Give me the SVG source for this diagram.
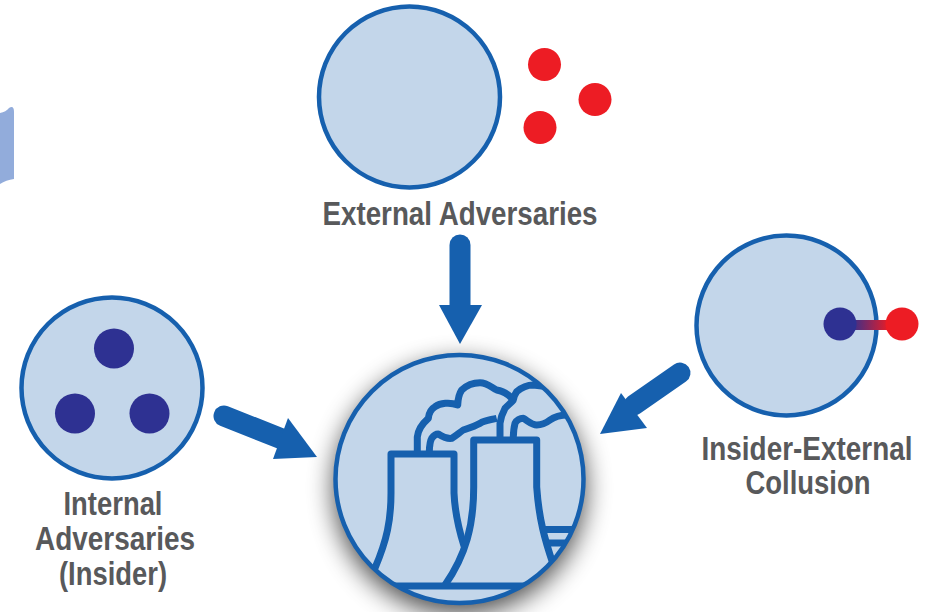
<svg xmlns="http://www.w3.org/2000/svg" width="935" height="612" viewBox="0 0 935 612">
<style>
.c{fill:#c3d6ea;stroke:#1660ae;stroke-width:4.5}
.r{fill:#ed1c24}
.n{fill:#2e3192}
.a{fill:#1660ae}
.s{fill:none;stroke:#1660ae;stroke-linecap:round;stroke-width:21}
.l{fill:none;stroke:#1660ae;stroke-width:7;stroke-linejoin:round}
.t{font-family:"Liberation Sans",Arial,sans-serif;font-weight:700;font-size:33px;fill:#58595b;text-anchor:middle}
</style>
<defs>
<linearGradient id="g" x1="0" x2="1" y1="0" y2="0"><stop offset="0" stop-color="#2e3192"/><stop offset="1" stop-color="#ed1c24"/></linearGradient>
<filter id="b" x="-30%" y="-30%" width="160%" height="160%"><feGaussianBlur stdDeviation="13"/></filter>
<clipPath id="p"><circle cx="459.500" cy="479" r="123"/></clipPath>
</defs>
<path id="edge-blob" d="M0 113Q6 112 9 108Q14 105 14 112V179Q6 180 0 184Z" fill="#92acdb"/>
<g id="connectors">
<path class="s" d="M460 245V308"/><path class="a" d="M439 305H482L460 344Z"/>
<path class="s" d="M224 416L282 439"/><path class="a" d="M288 418L317 457L273 459Z"/>
<path class="s" d="M680 373L634 405"/><path class="a" d="M621 393L647 428L600 434Z"/>
</g>
<g id="node-external">
<circle class="c" cx="409.500" cy="97" r="90.500"/>
<circle class="r" cx="544.500" cy="64.500" r="16.500"/><circle class="r" cx="595" cy="99.500" r="16.500"/><circle class="r" cx="540" cy="127.500" r="16.500"/>
<text class="t" x="460" y="225" textLength="275" lengthAdjust="spacingAndGlyphs">External Adversaries</text>
</g>
<g id="node-internal">
<circle class="c" cx="112" cy="388" r="90.500"/>
<circle class="n" cx="114" cy="348.500" r="20"/><circle class="n" cx="75" cy="413.500" r="20"/><circle class="n" cx="149.500" cy="413.500" r="20"/>
<text class="t" x="113" y="515" textLength="99" lengthAdjust="spacingAndGlyphs">Internal</text>
<text class="t" x="115" y="550" textLength="160" lengthAdjust="spacingAndGlyphs">Adversaries</text>
<text class="t" x="113" y="585" textLength="108" lengthAdjust="spacingAndGlyphs">(Insider)</text>
</g>
<g id="node-collusion">
<circle class="c" cx="786.500" cy="325.500" r="90"/>
<rect x="850" y="320" width="40" height="10" fill="url(#g)"/>
<circle class="n" cx="840" cy="324" r="16.500"/><circle class="r" cx="902" cy="324" r="16.500"/>
<text class="t" transform="translate(807 460) scale(.846 1)">Insider-External</text>
<text class="t" x="808" y="494" textLength="125" lengthAdjust="spacingAndGlyphs">Collusion</text>
</g>
<g id="node-plant">
<circle cx="459.500" cy="488" r="126" fill="#000" opacity=".7" filter="url(#b)"/>
<circle class="c" cx="459.500" cy="479" r="124"/>
<g clip-path="url(#p)">
<path class="l" d="M375 568C387 540 391 520 391 493V454H454V493C455 515 459 530 464 546"/>
<path class="l" d="M445 585C466 555 473.700 525 473.700 487V440H536.700V487C539 520 545 540 553 564"/>
<path class="l" d="M385 586H530M543 529.500H580M548 543H570"/>
<path class="l" d="M417.300 452V437C418 429 423 423 428.300 418.300C429 412 431 409 435 406.700C440 403 450 402 457.700 405C458 398 459 394 461.700 390C467 385 473 382.700 480 382.700C487 382.700 491 387 496.700 390C503 391 508 394 511.700 398.300"/>
<path class="l" d="M429.300 452C429.500 445 430 441 431.700 438.300C434 435 436 434 438.300 434C443 437 447 439 451.700 438.300C456 436 459 433 463.300 430C469 428 475 426 480 423.300C485 420 490 420 496.700 418.300"/>
<path class="l" d="M500 437V423.300C501 416 503 412 505 408.300C508 405 511 403 513.300 400C514 396 515 394 516.700 391.700C521 388 527 385 533.300 385L550 387"/>
<path class="l" d="M513.300 437C513.500 431 514 427 515 423.300C517 420 520 418.300 523.300 418.300C528 421 532 425 536.700 425C542 425 546 423 550 420C554 417 558 415 568 415"/>
</g>
</g>
</svg>
